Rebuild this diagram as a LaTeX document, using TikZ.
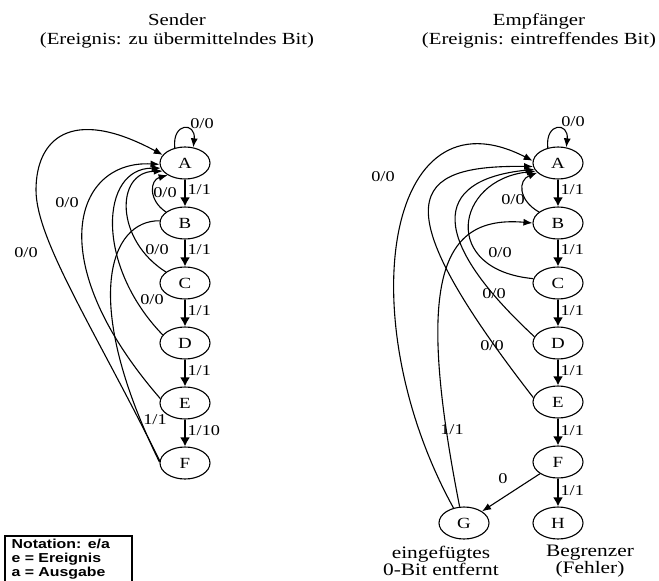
\documentclass[tikz,border=0pt]{standalone}
\usepackage{fontspec}
\setmainfont[FakeStretch=1.22]{Liberation Serif}
\newfontfamily\notafont[FakeStretch=1.22]{Liberation Sans}
\usetikzlibrary{shapes.geometric,arrows.meta}

\begin{document}
\begin{tikzpicture}[x=1pt,y=-1pt,line width=1.1pt,
  st/.style={ellipse,draw,minimum width=50pt,minimum height=32pt,inner sep=0pt,font=\fontsize{15.5}{17}\selectfont},
  lbl/.style={inner sep=0pt,font=\fontsize{15}{17}\selectfont},
  bit/.style={line width=2.6pt,-{Latex[length=9pt,width=10pt]}},
  back/.style={-{Latex[length=9pt,width=7pt]}},
  txt/.style={align=center,font=\fontsize{17}{19.5}\selectfont}]
  \useasboundingbox (0,0) rectangle (659,581);

  % titles
  \node[txt] (tS) at (177,31) {Sender\\(Ereignis: zu übermittelndes Bit)};
  \node[txt] (tE) at (539,31) {Empfänger\\(Ereignis: eintreffendes Bit)};

  % sender
  \node[st] (lA) at (185,163) {A};
  \node[st] (lB) at (185,223) {B};
  \node[st] (lC) at (185,283) {C};
  \node[st] (lD) at (185,343) {D};
  \node[st] (lE) at (185,403) {E};
  \node[st] (lF) at (185,463) {F};

  \draw[bit] (lA) -- (lB);
  \draw[bit] (lB) -- (lC);
  \draw[bit] (lC) -- (lD);
  \draw[bit] (lD) -- (lE);
  \draw[bit] (lE) -- (lF);
  \node[lbl,anchor=west] (lab) at (187,190) {1/1};
  \node[lbl,anchor=west] (lbc) at (187,250) {1/1};
  \node[lbl,anchor=west] (lcd) at (187,311) {1/1};
  \node[lbl,anchor=west] (lde) at (187,371) {1/1};
  \node[lbl,anchor=west] (lef) at (187,431) {1/10};

  \draw[back] (lA.124) .. controls (172,122) and (196,122) .. (lA.62);
  \draw[back] (lB.150) .. controls (148,200) and (150,180) .. (lA.215);
  \draw[back] (lC.150) .. controls (115,240) and (115,172) .. (lA.200);
  \draw[back] (lD.160) .. controls (95,265) and (100,168) .. (lA.192);
  \draw[back] (lE.170) .. controls (40,260) and (75,160) .. (lA.183);
  \draw[back] (lF.175) .. controls (95,330) and (36,240) .. (36,190)
    .. controls (36,140) and (70,105) .. (lA.160);
  \draw (lF.178) .. controls (80,300) and (110,220) .. (lB.175);

  \node[lbl] (laa) at (202,124) {0/0};
  \node[lbl] (lba) at (165,193) {0/0};
  \node[lbl] (lca) at (157,250) {0/0};
  \node[lbl] (lda) at (152,300) {0/0};
  \node[lbl] (lea) at (67,203) {0/0};
  \node[lbl] (lfa) at (26,253) {0/0};
  \node[lbl] (lfb) at (155,420) {1/1};

  % receiver
  \node[st] (rA) at (558,163) {A};
  \node[st] (rB) at (558,223) {B};
  \node[st] (rC) at (558,283) {C};
  \node[st] (rD) at (558,343) {D};
  \node[st] (rE) at (558,402) {E};
  \node[st] (rF) at (558,462) {F};
  \node[st] (rG) at (464,523) {G};
  \node[st] (rH) at (558,523) {H};

  \draw[bit] (rA) -- (rB);
  \draw[bit] (rB) -- (rC);
  \draw[bit] (rC) -- (rD);
  \draw[bit] (rD) -- (rE);
  \draw[bit] (rE) -- (rF);
  \draw[bit] (rF) -- (rH);
  \node[lbl,anchor=west] (rab) at (560,190) {1/1};
  \node[lbl,anchor=west] (rbc) at (560,250) {1/1};
  \node[lbl,anchor=west] (rcd) at (560,311) {1/1};
  \node[lbl,anchor=west] (rde) at (560,371) {1/1};
  \node[lbl,anchor=west] (ref) at (560,431) {1/1};
  \node[lbl,anchor=west] (rfh) at (560,491) {1/1};

  \draw[back] (rA.124) .. controls (545,122) and (569,122) .. (rA.62);
  \draw[back] (rB.150) .. controls (518,200) and (518,180) .. (rA.205);
  \draw[back] (rC.170) .. controls (440,270) and (455,180) .. (rA.200);
  \draw[back] (rD.165) .. controls (430,240) and (430,180) .. (rA.195);
  \draw[back] (rE.170) .. controls (380,200) and (410,165) .. (rA.188);
  \draw[back] (rG.125) .. controls (350,320) and (385,85) .. (rA.175);
  \draw[back] (rG.105) .. controls (415,280) and (440,215) .. (rB.180);
  \draw[back] (rF) -- (rG);

  \node[lbl] (raa) at (573,122) {0/0};
  \node[lbl] (rba) at (513,200) {0/0};
  \node[lbl] (rca) at (500,253) {0/0};
  \node[lbl] (rda) at (494,294) {0/0};
  \node[lbl] (rea) at (492,346) {0/0};
  \node[lbl] (rga) at (383,177) {0/0};
  \node[lbl] (rgb) at (452,430) {1/1};
  \node[lbl] (rfg) at (503,479) {0};

  \node[txt,font=\fontsize{17.5}{17}\selectfont] (tG) at (441,561) {eingefügtes\\0-Bit entfernt};
  \node[txt,font=\fontsize{17.5}{17}\selectfont] (tH) at (590,561) {Begrenzer\\(Fehler)};

  % notation
  \node[draw,line width=1.5pt,anchor=north west,minimum width=127pt,minimum height=46pt,
    text width=113pt,inner xsep=7pt,inner ysep=1pt,align=left,
    font=\notafont\bfseries\fontsize{13}{14}\selectfont] (nota) at (4,535)
    {Notation: e/a\\e = Ereignis\\a = Ausgabe};
\end{tikzpicture}
\end{document}
